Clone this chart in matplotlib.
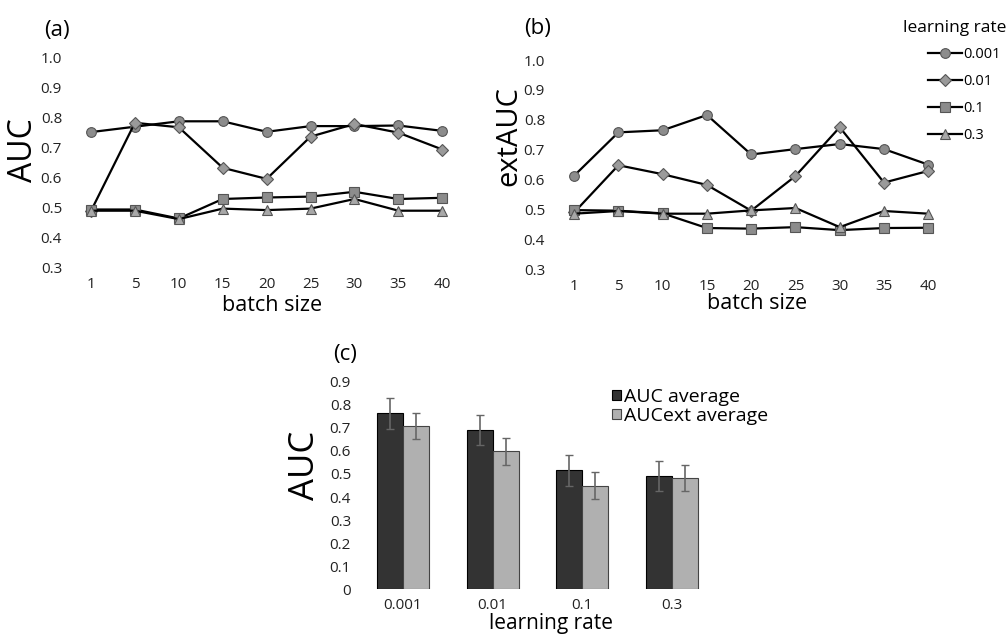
import matplotlib
matplotlib.use("Agg")
import matplotlib.pyplot as plt
import numpy as np

plt.rcParams['font.family'] = ['Open Sans', 'DejaVu Sans']

W, H = 1006, 635

batch_sizes = ["1", "5", "10", "15", "20", "25", "30", "35", "40"]
learning_rates = ["0.001", "0.01", "0.1", "0.3"]

# panel (a): AUC per batch size
auc_lr0001 = [0.752, 0.770, 0.788, 0.788, 0.753, 0.772, 0.772, 0.774, 0.756]
auc_lr001 = [0.489, 0.783, 0.768, 0.633, 0.596, 0.737, 0.779, 0.750, 0.694]
auc_lr01 = [0.494, 0.494, 0.464, 0.529, 0.534, 0.537, 0.553, 0.529, 0.533]
auc_lr03 = [0.490, 0.490, 0.462, 0.497, 0.492, 0.497, 0.529, 0.490, 0.490]

# panel (b): extAUC per batch size
ext_lr0001 = [0.613, 0.758, 0.765, 0.816, 0.684, 0.702, 0.719, 0.702, 0.650]
ext_lr001 = [0.490, 0.648, 0.618, 0.582, 0.496, 0.612, 0.775, 0.590, 0.629]
ext_lr01 = [0.498, 0.496, 0.487, 0.438, 0.436, 0.441, 0.431, 0.438, 0.439]
ext_lr03 = [0.486, 0.495, 0.486, 0.486, 0.497, 0.505, 0.441, 0.495, 0.486]

# panel (c): averages with error
auc_avg = [0.763, 0.692, 0.516, 0.491]
auc_err = [0.067, 0.065, 0.067, 0.065]
ext_avg = [0.708, 0.598, 0.449, 0.483]
ext_err = [0.058, 0.058, 0.058, 0.058]

styles = [
    ("o", "#8c8c8c"),
    ("D", "#9a9a9a"),
    ("s", "#8c8c8c"),
    ("^", "#a8a8a8"),
]


def px_axes(fig, left, top, right, bottom):
    """Add axes given pixel box (origin top-left)."""
    return fig.add_axes([left / W, 1 - bottom / H, (right - left) / W, (bottom - top) / H])


def ftext(fig, x, y, s, **kw):
    return fig.text(x / W, 1 - y / H, s, **kw)


def style_axes(ax):
    for sp in ax.spines.values():
        sp.set_visible(False)
    ax.tick_params(length=0, labelsize=11, colors="#222222")


def line_panel(ax, series):
    x = np.arange(len(batch_sizes))
    handles = []
    for vals, (mk, fc), lab in zip(series, styles, learning_rates):
        ms = 6 if mk == "D" else 7
        h, = ax.plot(x, vals, color="black", lw=1.6, marker=mk, ms=ms,
                     mfc=fc, mec="#555555", mew=0.8, label=lab)
        handles.append(h)
    ax.set_xlim(-0.5, len(batch_sizes) - 0.5)
    ax.set_ylim(0.3, 1.0)
    ax.set_xticks(x)
    ax.set_xticklabels(batch_sizes)
    ax.set_yticks(np.arange(0.3, 1.01, 0.1))
    ax.set_yticklabels([f"{v:.1f}" for v in np.arange(0.3, 1.01, 0.1)])
    style_axes(ax)
    ax.tick_params(axis="x", pad=7)
    ax.tick_params(axis="y", pad=5)
    return handles


fig = plt.figure(figsize=(W / 100, H / 100), dpi=100)

# (a)
ax_a = px_axes(fig, 69, 57.7, 464.3, 267.7)
line_panel(ax_a, [auc_lr0001, auc_lr001, auc_lr01, auc_lr03])
ftext(fig, 57, 36, "(a)", fontsize=16, ha="center", va="baseline")
ftext(fig, 272, 311, "batch size", fontsize=15.5, ha="center", va="baseline")
ftext(fig, 24, 150, "AUC", fontsize=23, ha="center", va="center", rotation=90)

# (b)
ax_b = px_axes(fig, 552, 60, 950.4, 269.3)
hb = line_panel(ax_b, [ext_lr0001, ext_lr001, ext_lr01, ext_lr03])
ftext(fig, 538, 34, "(b)", fontsize=16, ha="center", va="baseline")
ftext(fig, 757, 309, "batch size", fontsize=15.5, ha="center", va="baseline")
ftext(fig, 509, 136, "extAUC", fontsize=21, ha="center", va="center", rotation=90)
leg = fig.legend(handles=hb, loc="upper left", bbox_to_anchor=(928 / W, 1 - 47 / H),
                 frameon=False, fontsize=10.5, handlelength=2.3, handletextpad=0.15,
                 labelspacing=0.82, borderaxespad=0, borderpad=0)
ftext(fig, 955, 32, "learning rate", fontsize=12.5, ha="center", va="baseline")

# (c)
ax_c = px_axes(fig, 358, 381.7, 717, 589.3)
xc = np.arange(len(learning_rates))
bw = 0.29
ax_c.bar(xc - bw / 2, auc_avg, bw, color="#333333", edgecolor="black", lw=0.8,
         yerr=auc_err, error_kw=dict(ecolor="#666666", elinewidth=1.2, capsize=3, capthick=1),
         label="AUC average")
ax_c.bar(xc + bw / 2, ext_avg, bw, color="#b0b0b0", edgecolor="#444444", lw=0.8,
         yerr=ext_err, error_kw=dict(ecolor="#666666", elinewidth=1.2, capsize=3, capthick=1),
         label="AUCext average")
ax_c.set_xlim(-0.5, len(learning_rates) - 0.5)
ax_c.set_ylim(0, 0.9)
ax_c.set_xticks(xc)
ax_c.set_xticklabels(learning_rates)
yt = np.arange(0, 0.91, 0.1)
ax_c.set_yticks(yt)
ax_c.set_yticklabels(["0"] + [f"{v:.1f}" for v in yt[1:]])
style_axes(ax_c)
ax_c.tick_params(axis="x", pad=6)
ax_c.tick_params(axis="y", pad=5)
ax_c.legend(loc="upper left", bbox_to_anchor=(612 / W, 1 - 388 / H), bbox_transform=fig.transFigure,
            frameon=False, fontsize=14, handlelength=0.45, handleheight=0.45,
            handletextpad=0.15, labelspacing=0.05, borderaxespad=0, borderpad=0)
ftext(fig, 345, 360, "(c)", fontsize=16, ha="center", va="baseline")
ftext(fig, 551, 629, "learning rate", fontsize=15, ha="center", va="baseline")
ftext(fig, 305, 465, "AUC", fontsize=25, ha="center", va="center", rotation=90)

fig.savefig("out.png", dpi=100)
